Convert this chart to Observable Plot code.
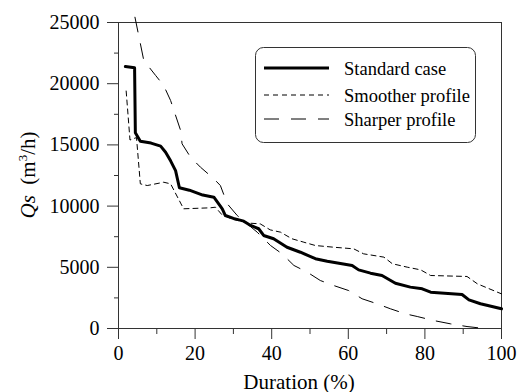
<!DOCTYPE html>
<html>
<head>
<meta charset="utf-8">
<script src="https://cdn.jsdelivr.net/npm/d3@7"></script>
<script src="https://cdn.jsdelivr.net/npm/@observablehq/plot@0.6"></script>
<style>
  @font-face { font-family: "RefSerif"; font-style: normal; src: local("Liberation Serif"), local("LiberationSerif"), local("LiberationSerif-Regular"), local("Tinos"), local("DejaVu Serif"), local("DejaVuSerif"); }
  @font-face { font-family: "RefSerif"; font-style: italic; src: local("Liberation Serif Italic"), local("LiberationSerif-Italic"), local("DejaVu Serif Italic"), local("DejaVuSerif-Italic"); }
  body { margin: 0; background: #fff; }
  #chart { position: relative; width: 518px; height: 392px; }
  #chart svg text, #chart svg tspan { font-family: "Liberation Serif", RefSerif, "DejaVu Serif", serif !important; }
</style>
</head>
<body>
<div id="chart"></div>
<script>
// Standard case
const stdDur = [1.8, 4.2, 4.4, 5.7, 8.5, 11, 12.3, 13.6, 14.9, 15.9, 18.5, 22, 24.9, 27.1, 27.9, 30, 32.7, 34.5, 36.6, 37.9, 40.5, 44, 47.5, 51.4, 54.5, 61, 62.7, 65.8, 68.8, 72.3, 76.2, 79.3, 81.5, 89.7, 91.5, 94.5, 100];
const stdQ   = [21400, 21300, 16000, 15300, 15150, 14900, 14400, 13700, 12900, 11500, 11300, 10900, 10730, 9780, 9230, 9000, 8770, 8420, 8150, 7600, 7330, 6640, 6230, 5700, 5500, 5150, 4790, 4520, 4330, 3700, 3380, 3240, 2970, 2780, 2340, 2020, 1610];
// Smoother profile
const smoothDur = [2, 3, 4.7, 5.7, 7.5, 11.8, 13.6, 17, 24, 25.3, 27, 30, 34.5, 37, 39.6, 42.3, 45.3, 48.4, 51.4, 56.2, 61.4, 64, 69.3, 71.5, 75.4, 78.9, 81.5, 91, 93.7, 100];
const smoothQ   = [19400, 15400, 15600, 11820, 11680, 11950, 11820, 9780, 9860, 9910, 9300, 8900, 8600, 8550, 8060, 7870, 7330, 7050, 6780, 6640, 6510, 6100, 5830, 5290, 5010, 4790, 4330, 4250, 3650, 2830];
// Sharper profile
const sharpDur = [4.3, 6.6, 9.7, 11.8, 13.6, 16.2, 16.6, 18.8, 21.4, 24.9, 26.6, 28.4, 31, 36.2, 39.7, 42.7, 45.8, 49.3, 52.7, 56.2, 60.1, 63.6, 67.5, 71, 74.9, 78, 82.3, 86.7, 91, 95.5];
const sharpQ   = [25430, 21900, 20670, 19850, 18630, 16200, 15090, 14000, 13180, 12230, 11680, 10190, 9230, 7870, 6780, 6100, 5150, 4600, 3920, 3510, 3100, 2430, 2020, 1610, 1200, 980, 650, 380, 160, 0];

const seriesNames = ["Standard case", "Smoother profile", "Sharper profile"];
const xMajor = [0, 20, 40, 60, 80, 100];
const xMinor = [10, 30, 50, 70, 90];
const yMajor = [0, 5000, 10000, 15000, 20000, 25000];
const yMinor = [2500, 7500, 12500, 17500, 22500];

const toRows = (ds, qs) => ds.map((d, i) => ({d, q: qs[i]}));
const std = toRows(stdDur, stdQ);
const smooth = toRows(smoothDur, smoothQ);
const sharp = toRows(sharpDur, sharpQ);

const FONT = "Liberation Serif, serif";
const styles = [
  {stroke: "#000", strokeWidth: 3, dash: null},
  {stroke: "#000", strokeWidth: 1, dash: "5,4"},
  {stroke: "#000", strokeWidth: 1, dash: "15,12"}
];

const plot = Plot.plot({
  width: 518,
  height: 392,
  marginLeft: 118,
  marginRight: 17,
  marginTop: 22,
  marginBottom: 64,
  style: {fontFamily: FONT, fontSize: "20px", color: "#000", background: "#fff", overflow: "visible"},
  x: {domain: [0, 100]},
  y: {domain: [0, 25000]},
  marks: [
    Plot.axisX({ticks: xMajor, tickSize: 11, tickPadding: 6, label: null, stroke: "#333"}),
    Plot.axisX({ticks: xMinor, tickSize: 6, text: null, label: null, stroke: "#333"}),
    Plot.axisY({ticks: yMajor, tickSize: 11, tickPadding: 8, tickFormat: d => String(d), label: null, stroke: "#333"}),
    Plot.axisY({ticks: yMinor, tickSize: 4, text: null, label: null, stroke: "#333"}),
    Plot.frame({stroke: "#333"}),
    Plot.line(smooth, {x: "d", y: "q", stroke: styles[1].stroke, strokeWidth: styles[1].strokeWidth, strokeDasharray: styles[1].dash}),
    Plot.line(sharp, {x: "d", y: "q", stroke: styles[2].stroke, strokeWidth: styles[2].strokeWidth, strokeDasharray: styles[2].dash}),
    Plot.line(std, {x: "d", y: "q", stroke: styles[0].stroke, strokeWidth: styles[0].strokeWidth, strokeLinejoin: "round"}),
    Plot.text(["Duration (%)"], {frameAnchor: "bottom", lineAnchor: "bottom", dy: 60, dx: -11, fontSize: 21})
  ]
});

document.getElementById("chart").appendChild(plot);

const svg = d3.select(plot);
// Y-axis title
const yt = svg.append("text")
  .attr("transform", "translate(35,175) rotate(-90)")
  .attr("text-anchor", "middle")
  .style("font-size", "21px")
  .attr("fill", "#000");
yt.append("tspan").attr("font-style", "italic").text("Qs");
yt.append("tspan").text("\u2002(m");
yt.append("tspan").style("font-size", "13px").attr("dy", -8).text("3");
yt.append("tspan").attr("dy", 8).text("/h)");

// Legend
const lg = svg.append("g").style("font-size", "18.5px").attr("text-anchor", "start");
lg.append("rect").attr("x", 255.5).attr("y", 47.5).attr("width", 220).attr("height", 95)
  .attr("rx", 8).attr("fill", "#fff").attr("stroke", "#333").attr("stroke-width", 1);
const rowsY = [68, 95, 119];
seriesNames.forEach((name, i) => {
  const s = styles[i];
  lg.append("line").attr("x1", 264).attr("x2", 329).attr("y1", rowsY[i]).attr("y2", rowsY[i])
    .attr("stroke", s.stroke).attr("stroke-width", s.strokeWidth)
    .attr("stroke-dasharray", s.dash);
  lg.append("text").attr("x", 344).attr("y", rowsY[i] + 7).attr("text-anchor", "start").attr("fill", "#000").text(name);
});
</script>
</body>
</html>
